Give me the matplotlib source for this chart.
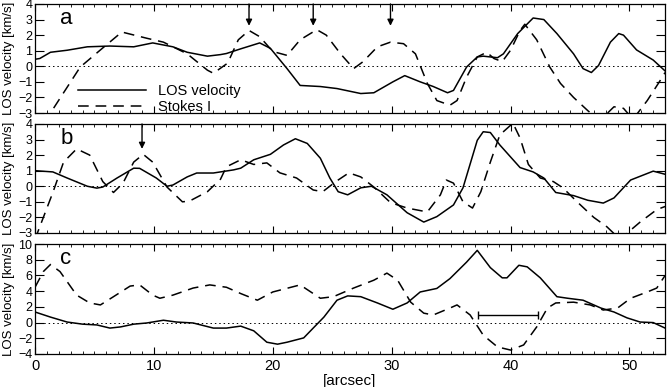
import matplotlib
matplotlib.use("Agg")
import matplotlib.pyplot as plt
from matplotlib.ticker import MultipleLocator

plt.rcParams['font.family'] = ['Liberation Sans', 'DejaVu Sans']

# panel a
a_vel_x = [0, 0.4, 1.3, 2.7, 4.4, 6.3, 8.3, 9.9, 11.6, 12.8, 14.5, 15.6, 16.1, 17.3, 18.9, 19.8, 21.2,
           22.3, 24.0, 25.4, 27.4, 28.5, 30.1, 31.1, 32.4, 33.5, 34.7, 35.2, 36.3, 37.2, 37.7, 38.9,
           39.4, 40.6, 41.9, 42.8, 43.9, 45.3, 46.1, 46.8, 47.4, 48.4, 49.1, 49.5, 50.6, 52.0, 53.0]
a_vel_y = [0.45, 0.5, 0.9, 1.03, 1.25, 1.3, 1.25, 1.5, 1.25, 0.9, 0.65, 0.75, 0.82, 1.12, 1.5, 1.15, -0.15,
           -1.23, -1.3, -1.43, -1.75, -1.7, -1.0, -0.6, -1.0, -1.3, -1.7, -1.55, -0.05, 0.6, 0.65, 0.55,
           0.8, 2.1, 3.1, 3.0, 2.1, 0.8, -0.15, -0.4, 0.05, 1.55, 2.1, 2.0, 1.05, 0.4, -0.3]
a_sto_x = [0, 1.3, 3.8, 5.5, 7.3, 9.4, 10.8, 12.8, 14.5, 15.0, 16.2, 17.1, 18.0, 18.9, 20.0, 21.2,
           22.3, 23.7, 24.5, 25.7, 26.8, 27.6, 28.8, 29.9, 31.0, 32.0, 33.0, 33.8, 34.9, 35.5, 36.3,
           37.2, 38.0, 38.6, 39.3, 40.0, 40.8, 41.2, 42.2, 43.3, 44.2, 45.3, 46.5, 47.5, 48.7, 49.5,
           50.3, 51.5, 52.6, 53.0]
a_sto_y = [-4.6, -3.0, -0.05, 1.05, 2.2, 1.8, 1.55, 0.8, -0.25, -0.45, 0.2, 1.7, 2.3, 1.9, 0.95, 0.7,
           1.7, 2.35, 2.0, 0.8, -0.15, 0.3, 1.25, 1.55, 1.45, 0.8, -1.1, -2.2, -2.5, -2.2, -0.7,
           0.6, 0.9, 0.5, 0.3, 1.03, 2.3, 2.7, 1.7, -0.05, -1.1, -2.0, -2.85, -3.5, -2.6, -2.7,
           -3.4, -2.2, -0.9, -0.4]

# panel b
b_vel_x = [0, 1.5, 2.7, 4.4, 5.2, 5.7, 6.9, 8.3, 8.8, 10.2, 11.1, 11.6, 12.8, 13.6, 15.0, 16.7, 17.3,
           18.4, 19.8, 20.9, 21.9, 22.9, 24.0, 24.8, 25.5, 26.3, 27.4, 28.3, 29.6, 31.3, 32.7, 33.8,
           35.2, 36.0, 37.2, 37.7, 38.3, 39.1, 40.8, 41.9, 42.8, 43.8, 45.3, 46.5, 47.8, 48.7, 50.1,
           52.0, 53.0]
b_vel_y = [1.0, 0.92, 0.53, 0.0, -0.12, -0.05, 0.53, 1.16, 1.15, 0.53, 0.0, 0.08, 0.6, 0.85, 0.85, 1.05, 1.16,
           1.7, 2.05, 2.65, 3.05, 2.75, 1.8, 0.53, -0.35, -0.55, -0.1, 0.0, -0.55, -1.7, -2.3, -1.95,
           -1.2, -0.1, 2.95, 3.5, 3.45, 2.65, 1.2, 0.92, 0.53, -0.4, -0.6, -0.9, -1.08, -0.75, 0.4,
           0.97, 0.77]
b_sto_x = [0, 0.2, 1.5, 2.4, 3.5, 4.6, 5.7, 6.6, 7.4, 8.3, 9.1, 9.9, 11.1, 12.4, 13.0, 14.5, 15.6,
           16.1, 17.3, 18.4, 19.5, 20.6, 22.0, 23.4, 24.2, 25.3, 26.4, 27.4, 28.5, 29.9, 31.3, 33.0,
           34.1, 34.6, 35.2, 36.0, 36.8, 37.5, 38.3, 39.1, 40.2, 40.8, 41.5, 42.5, 43.6, 44.4, 45.6,
           47.0, 48.1, 49.2, 50.9, 52.3, 53.0]
b_sto_y = [-3.4, -3.0, -0.4, 1.55, 2.4, 2.0, 0.3, -0.4, 0.2, 1.55, 2.05, 1.55, -0.05, -1.0, -0.95, -0.35, 0.45,
           1.25, 1.7, 1.4, 1.5, 0.86, 0.53, -0.24, -0.35, 0.3, 0.86, 0.6, -0.05, -1.05, -1.4, -1.65,
           -0.55, 0.4, 0.2, -1.0, -1.4, -0.35, 1.55, 3.3, 4.05, 3.1, 1.4, 0.53, 0.3, -0.1, -1.0,
           -2.0, -2.6, -3.4, -2.3, -1.5, -1.3]

# panel c
c_vel_x = [0, 1.3, 2.7, 4.0, 5.2, 6.3, 7.2, 8.3, 9.4, 10.8, 11.9, 13.3, 15.0, 16.1, 17.3, 18.4, 19.5,
           20.4, 21.2, 22.6, 23.4, 24.3, 25.4, 26.3, 27.4, 28.8, 30.1, 31.3, 32.4, 33.8, 34.9, 36.3,
           37.2, 38.3, 39.3, 39.7, 40.7, 41.4, 42.5, 43.9, 44.8, 46.1, 47.6, 48.7, 49.8, 50.9, 52.0,
           53.0]
c_vel_y = [1.35, 0.7, 0.07, -0.2, -0.3, -0.7, -0.55, -0.2, -0.05, 0.3, 0.07, -0.05, -0.7, -0.7, -0.45, -1.05, -2.5,
           -2.75, -2.5, -1.95, -0.7, 0.7, 2.85, 3.4, 3.3, 2.5, 1.7, 2.5, 3.9, 4.35, 5.6, 7.7,
           9.2, 7.0, 5.7, 5.7, 7.3, 7.1, 5.7, 3.3, 3.1, 2.85, 1.85, 1.35, 0.6, 0.07, 0.0,
           -0.7]
c_sto_x = [0, 0.7, 1.3, 2.1, 3.5, 4.6, 5.5, 6.6, 8.0, 8.8, 9.9, 10.5, 11.6, 13.3, 14.7, 16.1, 17.3,
           18.7, 20.0, 22.3, 24.0, 25.1, 26.8, 28.5, 29.6, 30.5, 31.6, 32.7, 33.5, 34.9, 35.5, 36.6,
           37.7, 38.9, 40.0, 41.1, 42.2, 43.1, 43.8, 45.3, 46.7, 47.8, 49.0, 50.1, 51.5, 52.3, 53.0]
c_sto_y = [4.5, 6.5, 7.4, 6.5, 3.5, 2.5, 2.25, 3.3, 4.65, 4.8, 3.5, 3.1, 3.5, 4.4, 4.8, 4.5, 3.7,
           2.85, 3.9, 4.8, 3.1, 3.3, 4.4, 5.4, 6.3, 5.4, 2.6, 1.2, 0.97, 1.85, 2.25, 0.97,
           -1.6, -3.1, -3.5, -2.85, -0.55, 1.85, 2.5, 2.6, 2.25, 1.6, 1.85, 3.1, 3.9, 4.4, 6.0]

arrows_a = [18.0, 23.4, 29.9]
arrows_b = [9.0]
bar_x = [37.3, 42.3]
bar_y = 1.0

fig = plt.figure(figsize=(6.71, 3.87), dpi=100)
L, W = 0.0522, 0.939
ax_a = fig.add_axes([L, 0.708, W, 0.2817])
ax_b = fig.add_axes([L, 0.398, W, 0.2817])
ax_c = fig.add_axes([L, 0.0853, W, 0.284])

dash = (0, (7, 4.5))

def setup(ax, ymin, ymax, ystep, letter):
    ax.set_xlim(0, 53)
    ax.set_ylim(ymin, ymax)
    ax.axhline(0, color='black', lw=0.7, ls=(0, (1.5, 3)))
    ax.xaxis.set_major_locator(MultipleLocator(10))
    ax.xaxis.set_minor_locator(MultipleLocator(1))
    ax.yaxis.set_major_locator(MultipleLocator(ystep))
    ax.tick_params(axis='x', which='major', direction='in', top=True, length=5, width=0.8, labelsize=10.5)
    ax.tick_params(axis='x', which='minor', direction='in', top=True, length=2.5, width=0.6)
    ax.tick_params(axis='y', which='major', direction='in', right=True, length=6.5, width=0.8,
                   labelsize=9, pad=2)
    ax.set_ylabel('LOS velocity [km/s]', fontsize=9.5, labelpad=2)
    ax.text(0.04, 0.96, letter, transform=ax.transAxes, fontsize=16, va='top', ha='left')
    for s in ax.spines.values():
        s.set_linewidth(0.9)

# a
ax_a.plot(a_vel_x, a_vel_y, color='black', lw=1.1, label='LOS velocity')
ax_a.plot(a_sto_x, a_sto_y, color='black', lw=1.1, ls=dash, label='Stokes I')
setup(ax_a, -3, 4, 1, 'a')
ax_a.tick_params(axis='x', labelbottom=False)
ax_a.legend(loc='lower left', bbox_to_anchor=(0.068, -0.01), frameon=False, fontsize=10.5,
            handlelength=4.7, handletextpad=0.8, labelspacing=0.15, borderpad=0, borderaxespad=0)
for xa in arrows_a:
    ax_a.annotate('', xy=(xa, 2.6), xytext=(xa, 4.0),
                  arrowprops=dict(arrowstyle='-|>', color='black', lw=1.0, mutation_scale=9,
                                  shrinkA=0, shrinkB=0))

# b
ax_b.plot(b_vel_x, b_vel_y, color='black', lw=1.1)
ax_b.plot(b_sto_x, b_sto_y, color='black', lw=1.1, ls=dash)
setup(ax_b, -3, 4, 1, 'b')
ax_b.tick_params(axis='x', labelbottom=False)
for xb in arrows_b:
    ax_b.annotate('', xy=(xb, 2.4), xytext=(xb, 4.0),
                  arrowprops=dict(arrowstyle='-|>', color='black', lw=1.0, mutation_scale=9,
                                  shrinkA=0, shrinkB=0))

# c
ax_c.plot(c_vel_x, c_vel_y, color='black', lw=1.1)
ax_c.plot(c_sto_x, c_sto_y, color='black', lw=1.1, ls=dash)
setup(ax_c, -4, 10, 2, 'c')
ax_c.errorbar((bar_x[0] + bar_x[1]) / 2, bar_y, xerr=(bar_x[1] - bar_x[0]) / 2, color='black',
              lw=1.0, capsize=3, capthick=1.0)
ax_c.set_xlabel('[arcsec]', fontsize=11, labelpad=1)

fig.savefig('out.png', dpi=100)
